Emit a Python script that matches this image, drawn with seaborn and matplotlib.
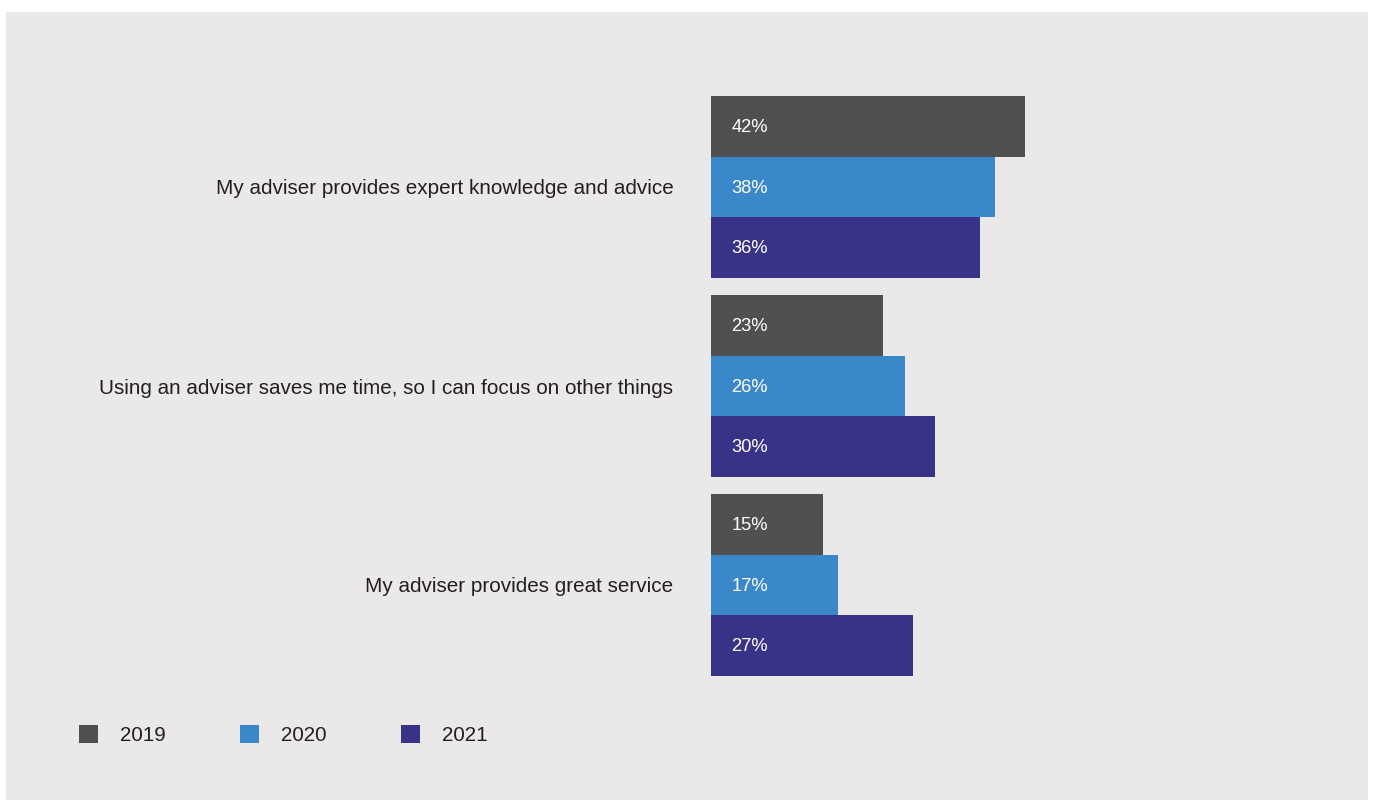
import matplotlib
matplotlib.use("Agg")
import matplotlib.pyplot as plt
from matplotlib.patches import Rectangle, Patch
import seaborn as sns
import pandas as pd

# Survey data: share of respondents citing each reason, by year
reasons = [
    "My adviser provides expert knowledge and advice",
    "Using an adviser saves me time, so I can focus on other things",
    "My adviser provides great service",
]
years = ["2019", "2020", "2021"]
values_2019 = [42, 23, 15]
values_2020 = [38, 26, 17]
values_2021 = [36, 30, 27]

colors = ["#505050", "#3A88C9", "#383386"]
panel_color = "#EAE8E9"
text_color = "#231F20"

rows = []
for year, vals in zip(years, [values_2019, values_2020, values_2021]):
    for reason, v in zip(reasons, vals):
        rows.append({"reason": reason, "year": year, "value": v})
df = pd.DataFrame(rows)

sns.set_theme(style="white")
plt.rcParams["font.family"] = ["Liberation Sans", "DejaVu Sans"]

fig = plt.figure(figsize=(13.75, 8.01), dpi=100, facecolor="white")
# light grey panel behind the chart
fig.patches.append(Rectangle((6 / 1375, 1 - 800 / 801), 1362 / 1375, 788 / 801,
                             transform=fig.transFigure, facecolor=panel_color,
                             edgecolor="none", zorder=-10))

ax = fig.add_axes([711 / 1375, 1 - 684.5 / 801, 373.8 / 1375, 597 / 801])
ax.set_facecolor("none")

sns.barplot(data=df, y="reason", x="value", hue="year", order=reasons,
            hue_order=years, palette=colors, orient="h", width=0.91,
            saturation=1, ax=ax, legend=False, linewidth=0)

ax.set_xlim(0, 50)
ax.set_ylim(2.5, -0.5)
ax.set_xlabel("")
ax.set_ylabel("")
ax.set_xticks([])
for s in ax.spines.values():
    s.set_visible(False)
ax.tick_params(axis="y", length=0, pad=27, labelsize=14.9, labelcolor=text_color)

# value labels near the base of each bar
for container, vals in zip(ax.containers, [values_2019, values_2020, values_2021]):
    for patch, v in zip(container.patches, vals):
        cy = patch.get_y() + patch.get_height() / 2
        ax.annotate(f"{v}%", xy=(0, cy), xytext=(14.5, -0.8), textcoords="offset points",
                    ha="left", va="center", color="white", fontsize=13.2)

handles = [Patch(facecolor=c, edgecolor="none") for c in colors]
fig.legend(handles, years, loc="center left", bbox_to_anchor=(60 / 1375, 1 - 735 / 801),
           ncol=3, frameon=False, fontsize=14.9, handlelength=0.93, handleheight=0.93,
           handletextpad=1.05, columnspacing=3.6, labelcolor=text_color)

fig.savefig("out.png", dpi=100, facecolor="white")
